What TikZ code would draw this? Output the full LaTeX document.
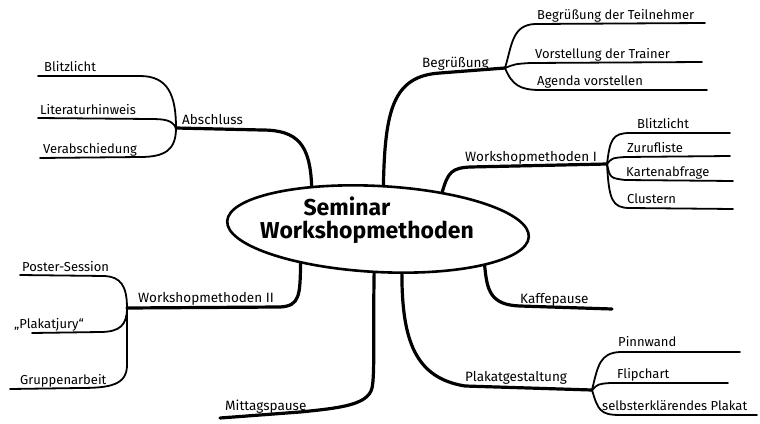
\documentclass[tikz,border=0pt]{standalone}
\usepackage{fontspec}
\setmainfont{Fira Sans}
\usetikzlibrary{shapes.geometric}
\begin{document}
\begin{tikzpicture}[x=1pt,y=-1pt,
  main/.style={line width=3.2pt, line cap=round, line join=round},
  sub/.style={line width=1.8pt, line cap=round, line join=round},
  lbl/.style={anchor=base west, inner sep=0pt, font=\fontsize{13}{15}\selectfont},
  mlbl/.style={anchor=base west, inner sep=0pt, font=\fontsize{13.5}{15}\selectfont},
  ctext/.style={anchor=base, inner sep=0pt, font=\bfseries\fontsize{23}{24}\selectfont},
  ]
\useasboundingbox (0,0) rectangle (760,423);
\fill[white] (0,0) rectangle (760,423);

% centre
\node[draw, ellipse, line width=2.6pt, minimum width=302pt, minimum height=86pt, inner sep=0pt, rotate=-3] (center) at (378,229) {};
\node[ctext] (sem) at (347,215) {Seminar};
\node[ctext] (ws) at (367,238) {Workshopmethoden};

% hubs and ends
\coordinate (aHub) at (176,128);
\coordinate (bHub) at (505,68);
\coordinate (wHub) at (607,164);
\coordinate (pHub) at (592,390);
\coordinate (w2Hub) at (127,308);
\coordinate (kEnd) at (612,309);
\coordinate (mEnd) at (220,418);

\coordinate (a1) at (38,76);
\coordinate (a2) at (38,118);
\coordinate (a3) at (40,158);
\coordinate (b1) at (705,23);
\coordinate (b2) at (702,62);
\coordinate (b3) at (707,90);
\coordinate (c1) at (730,133);
\coordinate (c2) at (730,156);
\coordinate (c3) at (733,181);
\coordinate (c4) at (733,209);
\coordinate (p1) at (740,352);
\coordinate (p2) at (728,383);
\coordinate (p3) at (757,415);
\coordinate (d1) at (20,275);
\coordinate (d2) at (32,333);
\coordinate (d3) at (10,389);

% main branches
\draw[main] (center.150) .. controls (310,145) and (298,130) .. (262,130) -- (aHub);
\draw[main] (center.86) .. controls (385,110) and (393,76) .. (440,73) -- (bHub);
\draw[main] (center.33) .. controls (448,172) and (452,168) .. (470,167) -- (wHub);
\draw[main] (center.-16) .. controls (487,290) and (490,305) .. (520,306) -- (kEnd);
\draw[main] (center.-59) .. controls (402,340) and (415,378) .. (465,386) -- (pHub);
\draw[main] (center.-92) .. controls (373,330) and (375,375) .. (372,388) .. controls (368,405) and (340,408) .. (300,412) -- (mEnd);
\draw[main] (center.207) .. controls (300,295) and (300,306) .. (280,307) -- (w2Hub);

% main labels
\node[mlbl] (abschluss) at (182,124) {Abschluss};
\node[mlbl] (begr) at (422,67) {Begrüßung};
\node[mlbl] (wm1) at (465,161) {Workshopmethoden I};
\node[mlbl] (kaffee) at (520,303) {Kaffepause};
\node[mlbl] (plakat) at (465,381) {Plakatgestaltung};
\node[mlbl] (mittag) at (225,410) {Mittagspause};
\node[mlbl] (wm2) at (138,302) {Workshopmethoden II};

% Abschluss subs
\draw[sub] (aHub) .. controls (176,95) and (168,76) .. (140,76) -- (a1);
\draw[sub] (aHub) .. controls (172,120) and (165,119) .. (150,119) -- (a2);
\draw[sub] (aHub) .. controls (176,150) and (165,157) .. (140,157) -- (a3);
\node[lbl] (ab1) at (44,71) {Blitzlicht};
\node[lbl] (ab2) at (40,114) {Literaturhinweis};
\node[lbl] (ab3) at (43,153) {Verabschiedung};

% Begruessung subs
\draw[sub] (bHub) .. controls (512,45) and (512,25) .. (535,24) -- (b1);
\draw[sub] (bHub) .. controls (515,64) .. (530,63) -- (b2);
\draw[sub] (bHub) .. controls (512,85) and (520,90) .. (540,90) -- (b3);
\node[lbl] (bb1) at (537,19) {Begrüßung der Teilnehmer};
\node[lbl] (bb2) at (535,58) {Vorstellung der Trainer};
\node[lbl] (bb3) at (537,85) {Agenda vorstellen};

% Workshopmethoden I subs
\draw[sub] (wHub) .. controls (610,140) and (612,133) .. (630,133) -- (c1);
\draw[sub] (wHub) .. controls (612,158) .. (625,157) -- (c2);
\draw[sub] (wHub) .. controls (610,178) .. (625,180) -- (c3);
\draw[sub] (wHub) .. controls (609,200) and (612,208) .. (630,208) -- (c4);
\node[lbl] (cb1) at (637,128) {Blitzlicht};
\node[lbl] (cb2) at (627,152) {Zurufliste};
\node[lbl] (cb3) at (626,176) {Kartenabfrage};
\node[lbl] (cb4) at (627,203) {Clustern};

% Plakatgestaltung subs
\draw[sub] (pHub) .. controls (598,365) and (600,353) .. (620,352) -- (p1);
\draw[sub] (pHub) .. controls (598,384) .. (610,383) -- (p2);
\draw[sub] (pHub) .. controls (598,410) and (600,415) .. (620,415) -- (p3);
\node[lbl] (pb1) at (618,346) {Pinnwand};
\node[lbl] (pb2) at (617,378) {Flipchart};
\node[lbl] (pb3) at (602,410) {selbsterklärendes Plakat};

% Workshopmethoden II subs
\draw[sub] (w2Hub) .. controls (127,285) and (120,277) .. (105,276) -- (d1);
\draw[sub] (w2Hub) .. controls (127,325) and (120,332) .. (100,332) -- (d2);
\draw[sub] (w2Hub) -- (127,365) .. controls (127,385) and (110,388) .. (80,388) -- (d3);
\node[lbl] (db1) at (22,271) {Poster-Session};
\node[lbl] (db2) at (14,328) {„Plakatjury“};
\node[lbl] (db3) at (20,384) {Gruppenarbeit};
\end{tikzpicture}
\end{document}
